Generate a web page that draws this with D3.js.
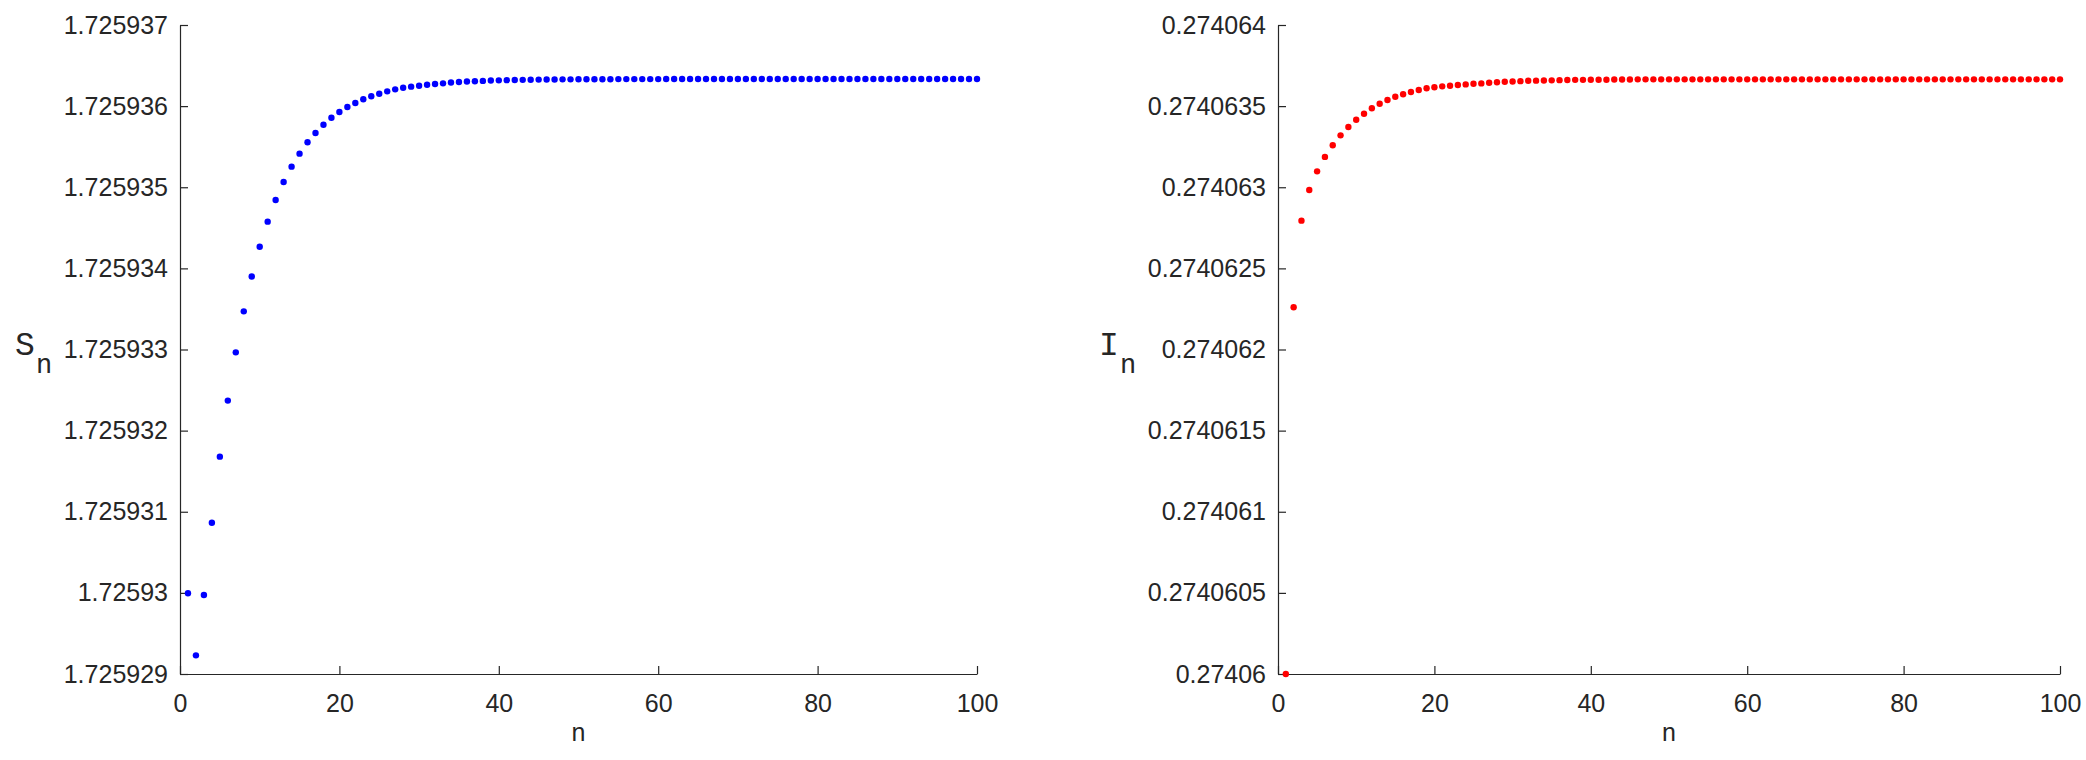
<!DOCTYPE html>
<html>
<head>
<meta charset="utf-8">
<script src="https://cdn.jsdelivr.net/npm/d3@7/dist/d3.min.js"></script>
<style>
  html, body { margin: 0; padding: 0; background: #fff; }
  svg { display: block; }
</style>
</head>
<body>
<svg id="chart" width="2086" height="760"></svg>
<script>
// ---------------- DATA ----------------
const nValues = d3.range(1, 101);

const sValues = [
  1.725929995, 1.725929230, 1.725929974, 1.725930865, 1.725931679,
  1.725932370, 1.725932965, 1.725933470, 1.725933900, 1.725934267,
  1.725934576, 1.725934843, 1.725935065, 1.725935254, 1.725935414,
  1.725935554, 1.725935669, 1.725935771, 1.725935857, 1.725935928,
  1.725935989, 1.725936038, 1.725936084, 1.725936121, 1.725936153,
  1.725936182, 1.725936207, 1.725936227, 1.725936240, 1.725936252,
  1.725936264, 1.725936273, 1.725936281, 1.725936291, 1.725936297,
  1.725936303, 1.725936307, 1.725936311, 1.725936315, 1.725936318,
  1.725936320, 1.725936322, 1.725936324, 1.725936325, 1.725936327,
  1.725936328, 1.725936329, 1.725936330, 1.725936330, 1.725936331,
  1.725936332, 1.725936332, 1.725936332, 1.725936332, 1.725936333,
  1.725936333, 1.725936333, 1.725936333, 1.725936333, 1.725936333,
  1.725936334, 1.725936334, 1.725936334, 1.725936334, 1.725936334,
  1.725936334, 1.725936334, 1.725936334, 1.725936334, 1.725936334,
  1.725936334, 1.725936334, 1.725936334, 1.725936334, 1.725936334,
  1.725936334, 1.725936334, 1.725936334, 1.725936334, 1.725936334,
  1.725936334, 1.725936334, 1.725936334, 1.725936334, 1.725936334,
  1.725936334, 1.725936334, 1.725936334, 1.725936334, 1.725936334,
  1.725936334, 1.725936334, 1.725936334, 1.725936334, 1.725936334,
  1.725936334, 1.725936334, 1.725936334, 1.725936334, 1.725936334
];

const iValues = [
  0.274060000, 0.274062260, 0.274062794, 0.274062983, 0.274063098,
  0.274063187, 0.274063259, 0.274063320, 0.274063371, 0.274063416,
  0.274063453, 0.274063487, 0.274063515, 0.274063538, 0.274063558,
  0.274063573, 0.274063587, 0.274063599, 0.274063610, 0.274063616,
  0.274063622, 0.274063626, 0.274063630, 0.274063634, 0.274063638,
  0.274063640, 0.274063644, 0.274063647, 0.274063650, 0.274063652,
  0.274063654, 0.274063656, 0.274063657, 0.274063658, 0.274063659,
  0.274063660, 0.274063661, 0.274063662, 0.274063662, 0.274063663,
  0.274063663, 0.274063663, 0.274063664, 0.274063664, 0.274063664,
  0.274063665, 0.274063665, 0.274063665, 0.274063665, 0.274063665,
  0.274063665, 0.274063665, 0.274063665, 0.274063665, 0.274063665,
  0.274063665, 0.274063665, 0.274063665, 0.274063665, 0.274063665,
  0.274063665, 0.274063665, 0.274063665, 0.274063665, 0.274063665,
  0.274063665, 0.274063665, 0.274063665, 0.274063665, 0.274063665,
  0.274063665, 0.274063665, 0.274063665, 0.274063665, 0.274063665,
  0.274063665, 0.274063665, 0.274063665, 0.274063665, 0.274063665,
  0.274063665, 0.274063665, 0.274063665, 0.274063665, 0.274063665,
  0.274063665, 0.274063665, 0.274063665, 0.274063665, 0.274063665,
  0.274063665, 0.274063665, 0.274063665, 0.274063665, 0.274063665,
  0.274063665, 0.274063665, 0.274063665, 0.274063665, 0.274063665
];

const xTicks = [0, 20, 40, 60, 80, 100];
const xTickLabels = ["0", "20", "40", "60", "80", "100"];

const sTicks = [1.725929, 1.725930, 1.725931, 1.725932, 1.725933, 1.725934, 1.725935, 1.725936, 1.725937];
const sTickLabels = ["1.725929", "1.72593", "1.725931", "1.725932", "1.725933", "1.725934", "1.725935", "1.725936", "1.725937"];

const iTicks = [0.27406, 0.2740605, 0.274061, 0.2740615, 0.274062, 0.2740625, 0.274063, 0.2740635, 0.274064];
const iTickLabels = ["0.27406", "0.2740605", "0.274061", "0.2740615", "0.274062", "0.2740625", "0.274063", "0.2740635", "0.274064"];

// ---------------- DRAW ----------------
const svg = d3.select("#chart");
svg.append("rect").attr("width", 2086).attr("height", 760).attr("fill", "#fff");

const axisColor = "#262626";
const tickFont = "'Liberation Sans', Arial, Helvetica, sans-serif";
const labelFont = "'Liberation Mono', 'Courier New', monospace";

function panel(opts) {
  const x = d3.scaleLinear().domain([0, 100]).range([opts.x0, opts.x1]);
  const y = d3.scaleLinear().domain(opts.yDomain).range([674, 25]);
  const g = svg.append("g");

  const xa = d3.axisBottom(x).tickValues(xTicks)
    .tickFormat((d, i) => xTickLabels[i]).tickSizeInner(-8).tickSizeOuter(0).tickPadding(20);
  const gx = g.append("g").attr("transform", "translate(0,674)").call(xa);

  const ya = d3.axisLeft(y).tickValues(opts.yTicks)
    .tickFormat((d, i) => opts.yLabels[i]).tickSizeInner(-8).tickSizeOuter(0).tickPadding(12);
  const gy = g.append("g").attr("transform", `translate(${opts.x0},0)`).call(ya);

  [gx, gy].forEach(a => {
    a.select(".domain").attr("stroke", axisColor).attr("stroke-width", 1.2);
    a.selectAll(".tick line").attr("stroke", axisColor).attr("stroke-width", 1.2);
    a.selectAll(".tick text").attr("fill", axisColor)
      .style("font-family", tickFont).style("font-size", "25px");
  });
  gy.selectAll(".tick text").attr("x", -12);

  g.append("g").selectAll("circle")
    .data(nValues.map((n, i) => [n, opts.values[i]]))
    .join("circle")
    .attr("cx", d => x(d[0]))
    .attr("cy", d => y(d[1]))
    .attr("r", 3.2)
    .attr("fill", opts.color);

  // x label
  g.append("text")
    .attr("x", (opts.x0 + opts.x1) / 2)
    .attr("y", 741)
    .attr("text-anchor", "middle")
    .attr("fill", axisColor)
    .style("font-family", tickFont)
    .style("font-size", "25px")
    .text("n");

  // y label
  const yl = g.append("text").attr("fill", axisColor).style("font-family", labelFont);
  yl.append("tspan").attr("x", opts.labX).attr("y", 355).style("font-size", "33px").text(opts.sym);
  yl.append("tspan").attr("x", opts.labX + 21).attr("y", 373).style("font-size", "27px").text("n");
}

panel({
  x0: 180, x1: 977,
  yDomain: [1.725929, 1.725937],
  yTicks: sTicks, yLabels: sTickLabels,
  values: sValues, color: "#0000FF",
  sym: "S", labX: 15
});

panel({
  x0: 1278, x1: 2060,
  yDomain: [0.27406, 0.274064],
  yTicks: iTicks, yLabels: iTickLabels,
  values: iValues, color: "#FF0000",
  sym: "I", labX: 1099
});
</script>
</body>
</html>
